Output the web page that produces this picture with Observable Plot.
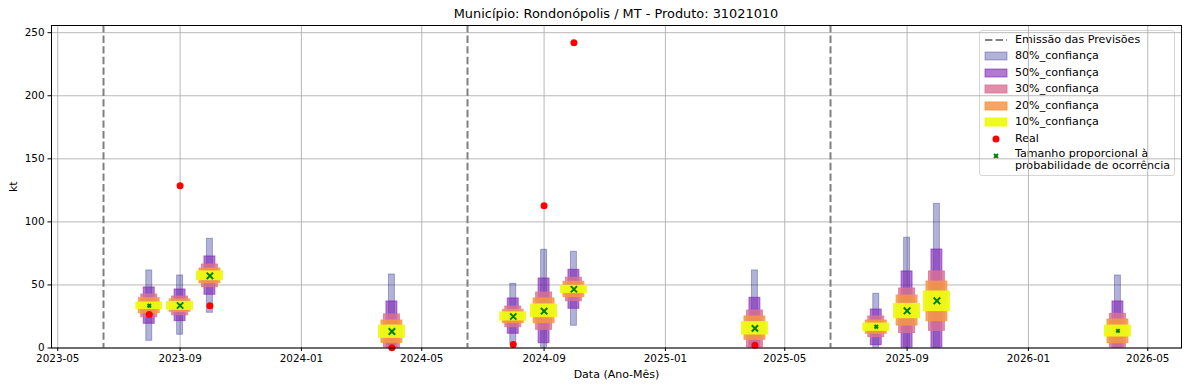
<!DOCTYPE html>
<html>
<head>
<meta charset="utf-8">
<script src="https://cdn.jsdelivr.net/npm/d3@7"></script>
<script src="https://cdn.jsdelivr.net/npm/@observablehq/plot@0.6"></script>
<style>
  html, body { margin: 0; padding: 0; background: #fff; }
  #wrap { position: relative; width: 1188px; height: 388px; font-family: "DejaVu Sans", sans-serif; color: #000; }
  #wrap svg.plot { position: absolute; left: 0; top: 0; }
  #title { position: absolute; left: 51px; width: 1130px; top: 6px; text-align: center; font-size: 12.9px; }
  #legend { position: absolute; left: 979px; top: 30px; width: 196px; height: 146px; border: 1px solid #d6d6d6; border-radius: 3px; background: rgba(255,255,255,0.85); box-sizing: border-box; }
  .lrow { position: absolute; left: 0; width: 195px; font-size: 11.1px; line-height: 12px; }
  .lrow svg { position: absolute; left: 4px; }
  .lrow span { position: absolute; left: 35px; white-space: nowrap; }
</style>
</head>
<body>
<div id="wrap">
  <div id="title"></div>
  <div id="legend"></div>
</div>
<script>
// ---------------- data ----------------
const titleText = "Município: Rondonópolis / MT - Produto: 31021010";
const xLabel = "Data (Ano-Mês)";
const yLabel = "kt";

const months = ["2023-08-01","2023-09-01","2023-10-01","2024-04-01","2024-08-01","2024-09-01","2024-10-01","2025-04-01","2025-08-01","2025-09-01","2025-10-01","2026-04-01"];
const lo80 = [5.7, 10.5, 27.9, 0, 3.3, 0, 17.6, 0, 0, 0, 0, 0];
const hi80 = [61.5, 57.5, 86.6, 58.3, 50.9, 77.9, 76.3, 61.5, 43.0, 87.4, 114.3, 57.5];
const lo50 = [19.2, 21.3, 42.2, 0, 11.3, 3.8, 31.1, 0, 2.2, 0, 0, 0];
const hi50 = [48.0, 46.4, 72.6, 36.9, 39.3, 55.1, 62.0, 39.8, 30.5, 60.7, 78.1, 36.9];
const lo30 = [24.4, 26.0, 48.2, 0, 16.5, 14.4, 37.1, 0.3, 8.6, 11.8, 13.6, 0];
const hi30 = [42.4, 40.8, 66.2, 26.6, 32.9, 44.0, 55.7, 29.7, 25.0, 47.2, 60.7, 27.1];
const lo20 = [27.6, 28.7, 51.4, 4.1, 19.7, 19.7, 40.3, 6.5, 11.3, 17.8, 21.3, 3.8];
const hi20 = [39.5, 38.5, 63.0, 21.8, 30.3, 39.3, 52.5, 25.0, 21.8, 41.6, 52.7, 22.6];
const lo10 = [30.8, 30.3, 53.8, 8.1, 21.8, 24.4, 43.5, 10.7, 13.6, 23.6, 29.2, 9.1];
const hi10 = [36.1, 36.6, 60.7, 17.8, 28.2, 34.5, 49.3, 20.5, 19.4, 35.0, 44.8, 17.8];
const median = [33.5, 33.7, 57.2, 13.1, 25.0, 29.2, 46.6, 15.5, 16.8, 29.5, 37.4, 13.6];
const prob = [0.3, 0.9, 0.95, 0.95, 0.9, 0.95, 0.9, 0.9, 0.32, 1.0, 1.0, 0.3];
const real = [26.6, 128.6, 33.5, 0.2, 2.8, 112.8, 242.0, 2.2, null, null, null, null];

const emissions = ["2023-06-16", "2024-06-16", "2025-06-16"];

const xTickLabels = ["2023-05","2023-09","2024-01","2024-05","2024-09","2025-01","2025-05","2025-09","2026-01","2026-05"];
const yTicks = [0, 50, 100, 150, 200, 250];

const levels = ["80%_confiança","50%_confiança","30%_confiança","20%_confiança","10%_confiança"];
const legendReal = "Real";
const legendEmission = "Emissão das Previsões";
const legendMarker = "Tamanho proporcional à\nprobabilidade de ocorrência";

// ---------------- styles ----------------
const bandStyle = [
  {color: "#000080", op: 0.3, half: 3},
  {color: "rgb(127,30,180)", op: 0.6, half: 5.5},
  {color: "#db7093", op: 0.8, half: 8},
  {color: "rgb(245,150,70)", op: 0.85, half: 10.5},
  {color: "rgb(238,250,20)", op: 0.95, half: 13}
];
const los = [lo80, lo50, lo30, lo20, lo10];
const his = [hi80, hi50, hi30, hi20, hi10];

const parse = s => new Date(s + (s.length === 7 ? "-01" : "") + "T00:00:00Z");
const DAY = 864e5;

const rows = months.map((m, i) => ({date: parse(m), median: median[i], prob: prob[i], real: real[i]}));
const bandMarks = levels.map((lv, k) => {
  const st = bandStyle[k];
  const data = months.map((m, i) => ({date: parse(m), lo: los[k][i], hi: his[k][i]}));
  return Plot.rect(data, {
    x1: d => new Date(+d.date - st.half * DAY),
    x2: d => new Date(+d.date + st.half * DAY),
    y1: "lo", y2: "hi",
    fill: st.color, fillOpacity: st.op,
    stroke: st.color, strokeOpacity: st.op, strokeWidth: 1,
    clip: true
  });
});

const xTicks = xTickLabels.map(parse);

const chart = Plot.plot({
  width: 1188,
  height: 388,
  marginLeft: 51,
  marginRight: 7,
  marginTop: 25,
  marginBottom: 40.5,
  style: {fontFamily: "DejaVu Sans, sans-serif", fontSize: "10.4px", color: "#000", background: "transparent"},
  x: {type: "utc", domain: [new Date(Date.UTC(2023, 3, 24, 17)), new Date(Date.UTC(2026, 5, 3, 22))]},
  y: {domain: [0, 255.7]},
  r: {type: "sqrt", domain: [0, 1], range: [0, 3.1]},
  marks: [
    Plot.gridX(xTicks, {stroke: "#b0b0b0", strokeOpacity: 1, strokeWidth: 0.9}),
    Plot.gridY(yTicks, {stroke: "#b0b0b0", strokeOpacity: 1, strokeWidth: 0.9}),
    Plot.ruleX(emissions.map(parse), {stroke: "gray", strokeWidth: 2, strokeDasharray: "7.4,3.2"}),
    ...bandMarks,
    Plot.dot(rows, {x: "date", y: "median", r: "prob", symbol: "times", stroke: "green", strokeWidth: 2}),
    Plot.dot(rows.filter(d => d.real != null), {x: "date", y: "real", r: 3.5, fill: "red"}),
    Plot.frame({stroke: "black", strokeWidth: 1}),
    Plot.axisX({ticks: xTicks, tickFormat: d3.utcFormat("%Y-%m"), tickSize: 3.5, tickPadding: 3.5}),
    Plot.axisX({ticks: [], label: xLabel, labelAnchor: "center", labelArrow: "none", labelOffset: 30, fontSize: 11}),
    Plot.axisY({ticks: yTicks, tickSize: 3.5, tickPadding: 3.5}),
    Plot.axisY({ticks: [], label: yLabel, labelAnchor: "center", labelArrow: "none", labelOffset: 42, fontSize: 11})
  ]
});
chart.classList.add("plot");
document.getElementById("wrap").appendChild(chart);
document.getElementById("title").textContent = titleText;

// ---------------- legend ----------------
const legend = document.getElementById("legend");
const rowCenters = [9, 25, 41.7, 57.7, 75, 91, 107.7];
function addRow(center, svgInner, text, h) {
  const div = document.createElement("div");
  div.className = "lrow";
  div.style.top = (center - 6) + "px";
  div.style.height = (h || 12) + "px";
  div.innerHTML = `<svg width="24" height="12" viewBox="0 0 24 12">${svgInner}</svg><span></span>`;
  div.querySelector("span").textContent = text;
  legend.appendChild(div);
  return div;
}
addRow(rowCenters[0], `<line x1="1" x2="23" y1="6" y2="6" stroke="gray" stroke-width="2" stroke-dasharray="7.4,3.2"/>`, legendEmission);
levels.forEach((lv, k) => {
  const st = bandStyle[k];
  addRow(rowCenters[k + 1], `<rect x="1" y="2" width="22" height="8" fill="${st.color}" fill-opacity="${st.op}" stroke="${st.color}" stroke-opacity="${st.op}"/>`, lv);
});
addRow(rowCenters[6], `<circle cx="12" cy="6" r="3.5" fill="red"/>`, legendReal);
const mrow = addRow(123, `<path d="M10,4L14,8M14,4L10,8" stroke="green" stroke-width="2"/>`, legendMarker, 26);
mrow.querySelector("span").style.whiteSpace = "pre";
mrow.querySelector("span").style.lineHeight = "12px";
mrow.querySelector("svg").style.top = "2px";
</script>
</body>
</html>
